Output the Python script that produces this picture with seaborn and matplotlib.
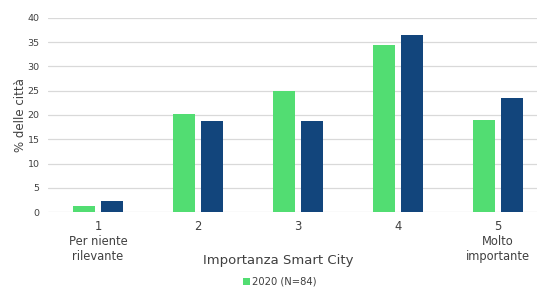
import matplotlib
matplotlib.use("Agg")
import matplotlib.pyplot as plt
import seaborn as sns
import pandas as pd
from matplotlib.patches import Patch

categories = ["1\nPer niente\nrilevante", "2", "3", "4", "5\nMolto\nimportante"]
series_names = ["2020 (N=84)", "Altro"]
values_green = [1.2, 20.2, 25.0, 34.5, 19.0]
values_blue = [2.3, 18.8, 18.8, 36.4, 23.5]
yticks = [0, 5, 10, 15, 20, 25, 30, 35, 40]

colors = ["#52DD72", "#12457C"]

df = pd.DataFrame({
    "cat": categories * 2,
    "serie": [series_names[0]] * 5 + [series_names[1]] * 5,
    "val": values_green + values_blue,
})

sns.set_theme(style="white")
plt.rcParams["font.family"] = ["DejaVu Sans"]

W, H = 537, 291
fig = plt.figure(figsize=(W / 100, H / 100), dpi=100)
ax = fig.add_axes([48 / W, 1 - 212 / H, (537 - 48) / W, 194 / H])

sns.barplot(data=df, x="cat", y="val", hue="serie", order=categories,
            hue_order=series_names, palette=colors, width=0.56, gap=0.21,
            linewidth=0, saturation=1, ax=ax, legend=False)

ax.set_xlim(-0.5, 4.39)
ax.set_ylim(0, 40)
ax.set_yticks(yticks)
ax.set_yticklabels([str(v) for v in yticks], fontsize=6.8, color="#404040")
ax.tick_params(axis="y", length=0, pad=6)
ax.tick_params(axis="x", length=0, pad=6, labelsize=8.3, labelcolor="#404040")
for lbl in ax.get_xticklabels():
    lbl.set_linespacing(1.2)
ax.grid(axis="y", color="#D9D9D9", linewidth=0.9)
ax.set_axisbelow(True)
for s in ax.spines.values():
    s.set_visible(False)

ax.set_ylabel("% delle città", fontsize=8.5, color="#404040")
ax.yaxis.set_label_coords(-(48 - 21) / 489, 0.5)
ax.yaxis.label.set_va("center")
ax.set_xlabel("Importanza Smart City", fontsize=9.5, color="#404040")
ax.xaxis.set_label_coords((278 - 48) / 489, -(254 - 212) / 194)

handles = [Patch(facecolor=colors[0], edgecolor="none")]
fig.legend(handles, [series_names[0]], loc="center", bbox_to_anchor=(280 / W, 1 - 282 / H),
           frameon=False, fontsize=7.2, handlelength=0.7, handleheight=0.7,
           handletextpad=0.2, labelcolor="#404040")

fig.savefig("out.png", dpi=100)
